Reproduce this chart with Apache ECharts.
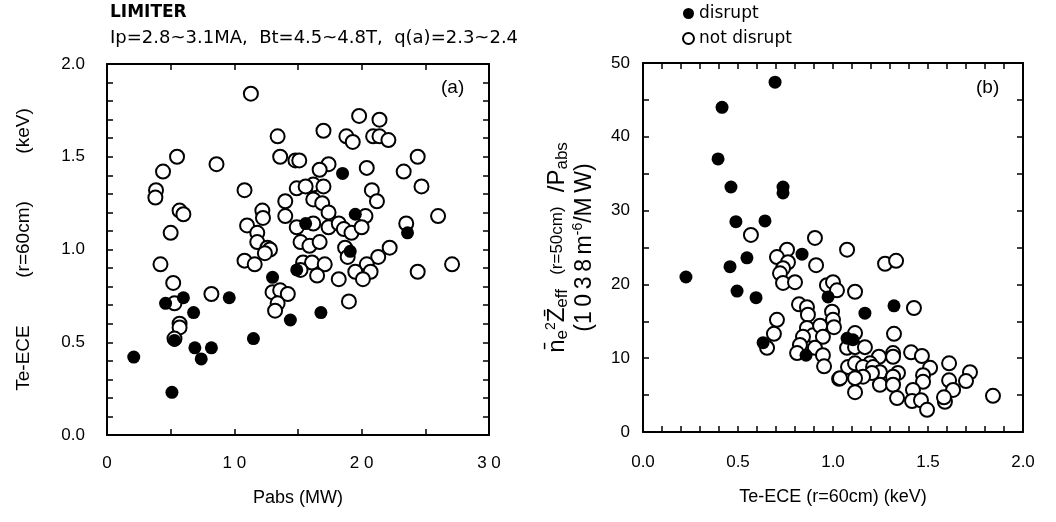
<!DOCTYPE html>
<html>
<head>
<meta charset="utf-8">
<script src="https://cdn.jsdelivr.net/npm/echarts@6/dist/echarts.min.js"></script>
<style>
  html, body { margin: 0; background: #fff; }
  #chart { width: 1056px; height: 522px; }
</style>
</head>
<body>
<div id="chart"></div>
<script>
// (a) Te-ECE vs Pabs
const pabsDisrupt = [2.1, 5.1, 4.6, 6.0, 5.3, 6.8, 6.9, 7.4, 8.2, 9.6, 11.5, 13.0, 14.4, 14.9, 15.6, 16.8, 18.5, 19.1, 19.5, 23.6];
const teDisrupt   = [0.42, 0.23, 0.71, 0.74, 0.51, 0.66, 0.47, 0.41, 0.47, 0.74, 0.52, 0.85, 0.62, 0.89, 1.14, 0.66, 1.41, 0.99, 1.19, 1.09];

const pabsNot = [11.3, 13.4, 17.0, 5.5, 8.6, 13.6, 14.8, 15.1, 4.4, 10.8, 3.85, 3.8, 5.7, 6.0, 12.2, 12.25, 14.0, 14.0, 5.0, 11.0,
  11.8, 14.9, 19.8, 21.4, 18.8, 19.3, 20.9, 21.4, 22.1, 24.4, 23.3, 20.4, 24.7, 20.8, 21.2, 17.4, 16.7, 16.2, 17.0, 16.2,
  16.9, 17.4, 15.6, 26.0, 20.3, 23.5, 16.2, 17.4, 18.2, 18.6, 19.2, 20.0, 14.9, 18.7, 18.9, 15.2, 15.9, 16.7, 15.4, 16.1,
  17.1, 16.5, 15.2, 22.2, 21.3, 20.4, 20.7, 19.5, 20.1, 18.2, 24.4, 27.1, 19.0, 11.8, 12.6, 12.8, 12.4, 10.8, 11.6, 4.2,
  5.2, 13.0, 13.6, 14.2, 13.4, 13.2, 8.2, 5.3, 5.7, 5.7, 5.3];
const teNot = [1.84, 1.61, 1.64, 1.50, 1.46, 1.50, 1.48, 1.48, 1.42, 1.32, 1.32, 1.28, 1.21, 1.19, 1.21, 1.17, 1.26, 1.18, 1.09, 1.13,
  1.09, 1.33, 1.72, 1.70, 1.61, 1.58, 1.61, 1.61, 1.59, 1.50, 1.42, 1.44, 1.34, 1.32, 1.26, 1.46, 1.43, 1.35, 1.34, 1.27,
  1.25, 1.20, 1.34, 1.18, 1.18, 1.14, 1.14, 1.12, 1.14, 1.11, 1.09, 1.12, 1.12, 1.01, 0.96, 1.04, 1.02, 1.04, 0.93, 0.93,
  0.92, 0.86, 0.89, 1.01, 0.96, 0.92, 0.88, 0.88, 0.84, 0.84, 0.88, 0.92, 0.72, 1.04, 1.01, 1.00, 0.98, 0.94, 0.92, 0.92,
  0.82, 0.77, 0.78, 0.76, 0.71, 0.67, 0.76, 0.71, 0.60, 0.58, 0.52];

// (b) ne^2 Zeff / Pabs vs Te-ECE
const teBDisrupt = [0.695, 0.416, 0.395, 0.463, 0.737, 0.737, 0.489, 0.642, 0.547, 0.837, 0.226, 0.458, 0.495, 0.595, 0.632, 0.858, 0.974, 1.074, 1.105, 1.168, 1.321];
const nzDisrupt  = [47.4, 44.0, 37.0, 33.2, 33.2, 32.4, 28.5, 28.6, 23.6, 24.1, 21.0, 22.4, 19.1, 18.2, 12.1, 10.4, 18.3, 12.7, 12.5, 16.1, 17.1];

const teBNot = [0.568, 0.905, 0.758, 0.705, 1.074, 0.763, 0.737, 0.721, 0.737, 0.8, 0.911, 0.705, 0.689, 0.653, 0.821, 0.863, 0.868, 0.968, 1.0, 1.021,
  0.995, 1.0, 1.005, 0.863, 0.895, 0.932, 0.947, 0.842, 0.826, 0.811, 0.905, 0.947, 0.953, 1.032, 1.074, 1.274, 1.332, 1.116, 1.426, 1.116,
  1.321, 1.116, 1.168, 1.316, 1.316, 1.411, 1.468, 1.242, 1.195, 1.079, 1.116, 1.158, 1.211, 1.247, 1.205, 1.158, 1.116, 1.037, 1.342, 1.316,
  1.511, 1.474, 1.474, 1.611, 1.611, 1.632, 1.721, 1.7, 1.247, 1.116, 1.316, 1.337, 1.421, 1.416, 1.463, 1.495, 1.589, 1.584, 1.842];
const nzNot = [26.7, 26.3, 24.7, 23.7, 24.7, 23.0, 22.2, 21.5, 20.2, 20.3, 22.6, 15.2, 13.3, 11.4, 17.3, 16.9, 15.9, 19.9, 20.3, 19.2,
  16.3, 15.2, 14.2, 14.1, 13.1, 14.4, 12.9, 12.9, 11.8, 10.7, 11.4, 10.4, 8.9, 7.2, 11.4, 22.8, 23.2, 19.0, 16.8, 13.4,
  13.3, 11.5, 11.5, 10.7, 10.2, 10.8, 10.3, 10.2, 9.3, 8.8, 9.3, 8.8, 8.8, 8.1, 8.0, 7.5, 7.3, 7.3, 8.0, 7.5,
  8.7, 7.7, 6.8, 9.3, 7.0, 5.7, 8.1, 6.9, 6.4, 5.4, 6.4, 4.6, 5.7, 4.2, 4.3, 3.0, 4.1, 4.7, 4.9];

const ink = '#000';
const sans = 'Liberation Sans, Arial, sans-serif';
const wide = 'DejaVu Sans, Liberation Sans, sans-serif';
const narrow = 'Liberation Sans Narrow, Liberation Sans, Arial, sans-serif';

const zip = (xs, ys) => xs.map((x, i) => [x, ys[i]]);
// only label ticks that fall on a multiple of `step`
const every = (step, fmt) => v => Math.abs(v / step - Math.round(v / step)) < 1e-6 ? fmt(v) : '';

// one side of a plot frame, ticks pointing inwards
function frameAxis(grid, pos, min, max, interval, extra) {
  return Object.assign({
    gridIndex: grid,
    type: 'value',
    position: pos,
    min, max, interval,
    axisLine: { show: true, onZero: false, lineStyle: { color: ink, width: 2 } },
    axisTick: { show: true, inside: true, length: 6, lineStyle: { color: ink, width: 1.5 } },
    splitLine: { show: false },
    axisLabel: { show: false }
  }, extra);
}

const labelStyle = { show: true, color: ink, fontFamily: sans, fontSize: 17 };
const nameStyle = { color: ink, fontFamily: narrow, fontSize: 18 };

const chart = echarts.init(document.getElementById('chart'));

chart.setOption({
  animation: false,
  backgroundColor: '#fff',
  grid: [
    { left: 107, top: 64, width: 382, height: 371 },
    { left: 643, top: 63, width: 380, height: 369 }
  ],
  legend: {
    orient: 'vertical',
    left: 677,
    top: 0,
    itemGap: 8,
    itemWidth: 11,
    itemHeight: 11,
    data: ['disrupt', 'not disrupt'],
    textStyle: { color: ink, fontFamily: wide, fontSize: 17 }
  },
  xAxis: [
    frameAxis(0, 'bottom', 0, 30, 5, {
      axisLabel: Object.assign({}, labelStyle, { margin: 20, formatter: every(10, v => String(v).split('').join(' ')) }),
      name: 'Pabs (MW)', nameLocation: 'middle', nameGap: 54, nameTextStyle: nameStyle
    }),
    frameAxis(0, 'top', 0, 30, 5),
    frameAxis(1, 'bottom', 0, 2, 0.1, {
      axisLabel: Object.assign({}, labelStyle, { margin: 22, formatter: every(0.5, v => v.toFixed(1)) }),
      name: 'Te-ECE (r=60cm) (keV)', nameLocation: 'middle', nameGap: 56, nameTextStyle: nameStyle
    }),
    frameAxis(1, 'top', 0, 2, 0.1)
  ],
  yAxis: [
    frameAxis(0, 'left', 0, 2, 0.1, {
      axisLabel: Object.assign({}, labelStyle, { margin: 22, formatter: every(0.5, v => v.toFixed(1)) }),
      name: 'Te-ECE         (r=60cm)         (keV)', nameLocation: 'middle', nameRotate: 90, nameGap: 74,
      nameTextStyle: { color: ink, fontFamily: sans, fontSize: 19 }
    }),
    frameAxis(0, 'right', 0, 2, 0.1),
    frameAxis(1, 'left', 0, 50, 5, {
      axisLabel: Object.assign({}, labelStyle, { margin: 13, formatter: every(10, v => String(v)) }),
      name: '{n|n\u0304}{s|e}{p|2}{n|Z\u0304}{s|eff}{m|   (r=50cm)   }{n|/P}{s|abs}\n{w|(1\u20090\u20093\u20098\u2009m}{p|-6}{w|/M\u2009W)}',
      nameLocation: 'middle', nameRotate: 90, nameGap: 45,
      nameTextStyle: {
        color: ink, fontFamily: sans, fontSize: 20,
        rich: {
          n: { fontFamily: sans, fontSize: 24, color: ink, lineHeight: 27 },
          w: { fontFamily: sans, fontSize: 23, color: ink, lineHeight: 27 },
          m: { fontFamily: sans, fontSize: 17, color: ink, lineHeight: 27 },
          s: { fontFamily: sans, fontSize: 17, color: ink, lineHeight: 27, verticalAlign: 'bottom' },
          p: { fontFamily: sans, fontSize: 14, color: ink, lineHeight: 27, verticalAlign: 'top' }
        }
      }
    }),
    frameAxis(1, 'right', 0, 50, 5)
  ],
  graphic: [
    { type: 'text', left: 110, top: 4, style: { text: 'LIMITER', fill: ink, font: '600 17px ' + wide } },
    { type: 'text', left: 110, top: 29, style: { text: 'Ip=2.8~3.1MA,  Bt=4.5~4.8T,  q(a)=2.3~2.4', fill: ink, font: '18px ' + wide } },
    { type: 'text', left: 441, top: 78, style: { text: '(a)', fill: ink, font: '19px ' + sans } },
    { type: 'text', left: 976, top: 78, style: { text: '(b)', fill: ink, font: '19px ' + sans } }
  ],
  series: [
    {
      name: 'not disrupt', type: 'scatter', xAxisIndex: 0, yAxisIndex: 0, silent: true,
      symbolSize: 14, itemStyle: { color: '#fff', borderColor: ink, borderWidth: 2, opacity: 1 },
      data: zip(pabsNot, teNot)
    },
    {
      name: 'disrupt', type: 'scatter', xAxisIndex: 0, yAxisIndex: 0, silent: true,
      symbolSize: 13, itemStyle: { color: ink, opacity: 1 },
      data: zip(pabsDisrupt, teDisrupt)
    },
    {
      name: 'not disrupt', type: 'scatter', xAxisIndex: 2, yAxisIndex: 2, silent: true,
      symbolSize: 14, itemStyle: { color: '#fff', borderColor: ink, borderWidth: 2, opacity: 1 },
      data: zip(teBNot, nzNot)
    },
    {
      name: 'disrupt', type: 'scatter', xAxisIndex: 2, yAxisIndex: 2, silent: true,
      symbolSize: 13, itemStyle: { color: ink, opacity: 1 },
      data: zip(teBDisrupt, nzDisrupt)
    }
  ]
});
</script>
</body>
</html>
